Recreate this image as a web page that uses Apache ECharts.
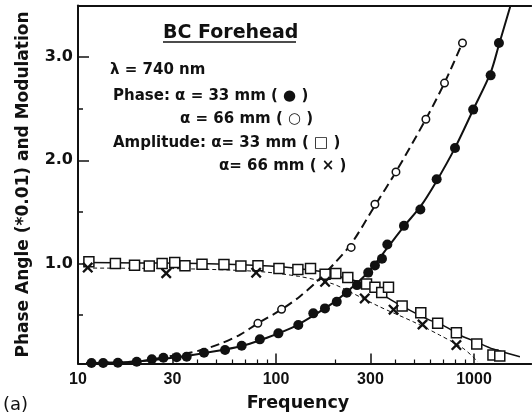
<!DOCTYPE html>
<html>
<head>
<meta charset="utf-8">
<script src="https://cdn.jsdelivr.net/npm/echarts@6/dist/echarts.min.js"></script>
<style>
html, body { margin: 0; padding: 0; background: #fff; }
#chart { width: 532px; height: 419px; }
</style>
</head>
<body>
<div id="chart"></div>
<script>
// axis ticks
var freqMajor = [10, 30, 100, 300, 1000];
var freqMinor = [20, 40, 50, 60, 70, 80, 90, 200, 400, 500, 600, 700, 800, 900];
var yMajor = [1, 2, 3];
var yMinor = [0.5, 1.5, 2.5];

// phase, 33 mm (filled circles) + fit
var phase33Freq = [11.7, 13.4, 15.9, 19.8, 23.6, 27.0, 31.5, 35.4, 43.3, 55.3, 67.1, 82.9, 102.8, 129.6, 154.3, 176.7, 202.7, 227.8, 256.5, 292.3, 316, 343, 365, 443, 536, 648, 802, 991, 1214, 1337];
var phase33Val = [0.035, 0.035, 0.038, 0.047, 0.071, 0.086, 0.090, 0.096, 0.135, 0.161, 0.202, 0.264, 0.322, 0.403, 0.516, 0.564, 0.628, 0.715, 0.790, 0.911, 0.981, 1.045, 1.184, 1.364, 1.523, 1.816, 2.119, 2.491, 2.823, 3.136];
var phase33FitFreq = [11, 15, 20, 30, 40, 55, 70, 90, 120, 150, 200, 250, 300, 365, 443, 536, 648, 802, 991, 1214, 1337, 1530];
var phase33FitVal = [0.035, 0.04, 0.05, 0.085, 0.12, 0.165, 0.21, 0.28, 0.375, 0.48, 0.635, 0.79, 0.94, 1.15, 1.36, 1.55, 1.8, 2.12, 2.49, 2.85, 3.12, 3.5];

// phase, 66 mm (open circles) + fit
var phase66Freq = [81, 106.7, 239.7, 316, 403.6, 571.6, 709.8, 875];
var phase66Val = [0.419, 0.555, 1.155, 1.574, 1.887, 2.397, 2.748, 3.136];
var phase66FitFreq = [11, 15, 21, 29, 40, 52, 66, 81, 107, 132, 160, 195, 240, 316, 404, 572, 710, 875];
var phase66FitVal = [0.035, 0.04, 0.055, 0.1, 0.15, 0.22, 0.31, 0.42, 0.555, 0.68, 0.82, 0.99, 1.19, 1.56, 1.89, 2.4, 2.75, 3.14];

// amplitude, 33 mm (squares) + fit
var amp33Freq = [11.35, 15.45, 19.3, 22.9, 26.6, 30.8, 34.7, 42.3, 54.6, 66.5, 81.1, 103.5, 129, 149.4, 177, 200.6, 230.5, 286.6, 316, 342, 370, 433.6, 538.7, 655.6, 815, 1033, 1247, 1350];
var amp33Val = [1.016, 1.0, 0.983, 0.974, 1.0, 1.01, 0.977, 0.993, 0.99, 0.974, 0.977, 0.952, 0.942, 0.952, 0.896, 0.903, 0.864, 0.8, 0.768, 0.719, 0.768, 0.587, 0.522, 0.419, 0.328, 0.219, 0.112, 0.103];
var amp33FitFreq = [11, 20, 41, 93, 132, 188, 211, 275, 408, 597, 670, 882, 1000, 1250, 1707];
var amp33FitVal = [1.01, 1.005, 1.0, 0.974, 0.948, 0.906, 0.87, 0.806, 0.613, 0.451, 0.419, 0.289, 0.25, 0.17, 0.096];

// amplitude, 66 mm (crosses) + fit
var amp66Freq = [11.2, 27.9, 79.4, 177, 280.7, 392.6, 549.7, 815];
var amp66Val = [0.96, 0.905, 0.91, 0.822, 0.661, 0.552, 0.408, 0.209];
var amp66FitFreq = [11, 30, 60, 90, 130, 160, 195, 236, 334, 493, 670, 882, 1047];
var amp66FitVal = [0.955, 0.95, 0.935, 0.915, 0.875, 0.84, 0.8, 0.725, 0.58, 0.435, 0.306, 0.177, 0.047];

function pairs(xs, ys) {
    return xs.map(function (x, i) { return [x, ys[i]]; });
}

var lib = 'Liberation Sans';
var dv = 'DejaVu Sans';
var ink = '#111';
var noteFont = 'bold 15px "DejaVu Sans"';
var crossPath = 'path://M0,1.5L1.5,0L5,3.5L8.5,0L10,1.5L6.5,5L10,8.5L8.5,10L5,6.5L1.5,10L0,8.5L3.5,5Z';

var myChart = echarts.init(document.getElementById('chart'));
var option = {
    animation: false,
    backgroundColor: '#fff',
    grid: { left: 78, top: 5.5, width: 453.4, height: 358 },
    xAxis: [{
            type: 'log',
            min: 10,
            max: 1950,
            position: 'bottom',
            axisLine: { lineStyle: { color: ink, width: 2 } },
            axisTick: { inside: true, length: 10, customValues: freqMajor, lineStyle: { color: ink, width: 1.5 } },
            axisLabel: {
                customValues: freqMajor,
                margin: 8,
                fontFamily: lib,
                fontWeight: 'bold',
                fontSize: 16,
                color: ink,
                formatter: function (v) { return String(v); }
            },
            splitLine: { show: false }
        },
        {
            type: 'log',
            min: 10,
            max: 1950,
            position: 'bottom',
            axisLine: { show: false },
            axisTick: { inside: true, length: 4, customValues: freqMinor, lineStyle: { color: ink, width: 1.2 } },
            axisLabel: { show: false },
            splitLine: { show: false }
        },
        {
            type: 'value',
            min: 0,
            max: 1,
            position: 'top',
            axisLine: { lineStyle: { color: ink, width: 2 } },
            axisTick: { show: false },
            axisLabel: { show: false },
            splitLine: { show: false }
        }
    ],
    yAxis: [{
            type: 'value',
            min: 0.03,
            max: 3.5,
            position: 'left',
            name: 'Phase Angle (*0.01) and Modulation',
            nameLocation: 'middle',
            nameGap: 46,
            nameTextStyle: { fontFamily: dv, fontWeight: 'bold', fontSize: 17, color: ink },
            axisLine: { lineStyle: { color: ink, width: 2 } },
            axisTick: { inside: true, length: 11, customValues: yMajor, lineStyle: { color: ink, width: 1.5 } },
            axisLabel: {
                customValues: yMajor,
                margin: 5,
                fontFamily: dv,
                fontWeight: 'bold',
                fontSize: 16,
                color: ink,
                formatter: function (v) { return v.toFixed(1); }
            },
            splitLine: { show: false }
        },
        {
            type: 'value',
            min: 0.03,
            max: 3.5,
            position: 'left',
            axisLine: { show: false },
            axisTick: { inside: true, length: 5, customValues: yMinor, lineStyle: { color: ink, width: 1.5 } },
            axisLabel: { show: false },
            splitLine: { show: false }
        }
    ],
    series: [{
            name: 'phase33 fit',
            type: 'line',
            smooth: 0.3,
            showSymbol: false,
            data: pairs(phase33FitFreq, phase33FitVal),
            lineStyle: { color: ink, width: 2 },
            z: 2
        },
        {
            name: 'phase66 fit',
            type: 'line',
            smooth: 0.3,
            showSymbol: false,
            data: pairs(phase66FitFreq, phase66FitVal),
            lineStyle: { color: ink, width: 2, type: [9, 5] },
            z: 2
        },
        {
            name: 'amp33 fit',
            type: 'line',
            smooth: 0.3,
            showSymbol: false,
            data: pairs(amp33FitFreq, amp33FitVal),
            lineStyle: { color: ink, width: 1.5 },
            z: 2
        },
        {
            name: 'amp66 fit',
            type: 'line',
            smooth: 0.3,
            showSymbol: false,
            data: pairs(amp66FitFreq, amp66FitVal),
            lineStyle: { color: ink, width: 1, type: [4, 3] },
            z: 2
        },
        {
            name: 'phase33',
            type: 'scatter',
            symbol: 'circle',
            symbolSize: 10,
            data: pairs(phase33Freq, phase33Val),
            itemStyle: { color: ink, opacity: 1 },
            z: 3
        },
        {
            name: 'phase66',
            type: 'scatter',
            symbol: 'circle',
            symbolSize: 7.5,
            data: pairs(phase66Freq, phase66Val),
            itemStyle: { color: '#fff', borderColor: ink, borderWidth: 1.5, opacity: 1 },
            z: 3
        },
        {
            name: 'amp33',
            type: 'scatter',
            symbol: 'rect',
            symbolSize: 10,
            data: pairs(amp33Freq, amp33Val),
            itemStyle: { color: '#fff', borderColor: ink, borderWidth: 1.5, opacity: 1 },
            z: 3
        },
        {
            name: 'amp66',
            type: 'scatter',
            symbol: crossPath,
            symbolSize: 11,
            data: pairs(amp66Freq, amp66Val),
            itemStyle: { color: ink, opacity: 1 },
            z: 4
        }
    ],
    graphic: [
        { type: 'text', x: 163, y: 33, style: { text: 'BC Forehead', font: 'bold 19px "DejaVu Sans"', fill: ink, textVerticalAlign: 'middle' } },
        { type: 'line', shape: { x1: 163, y1: 42, x2: 296, y2: 42 }, style: { stroke: ink, lineWidth: 1.5 } },
        { type: 'text', x: 110, y: 70.5, style: { text: 'λ = 740 nm', font: noteFont, fill: ink, textVerticalAlign: 'middle' } },
        { type: 'text', x: 113, y: 96, style: { text: 'Phase: α = 33 mm ( ● )', font: noteFont, fill: ink, textVerticalAlign: 'middle' } },
        { type: 'text', x: 180, y: 119, style: { text: 'α = 66 mm ( ○ )', font: noteFont, fill: ink, textVerticalAlign: 'middle' } },
        { type: 'text', x: 113, y: 143, style: { text: 'Amplitude: α= 33 mm ( □ )', font: noteFont, fill: ink, textVerticalAlign: 'middle' } },
        { type: 'text', x: 219, y: 166, style: { text: 'α= 66 mm ( × )', font: noteFont, fill: ink, textVerticalAlign: 'middle' } },
        { type: 'text', x: 298, y: 403, style: { text: 'Frequency', font: 'bold 17.5px "DejaVu Sans"', fill: ink, textAlign: 'center', textVerticalAlign: 'middle' } },
        { type: 'text', x: 3, y: 405, style: { text: '(a)', font: '18px "DejaVu Sans"', fill: ink, textVerticalAlign: 'middle' } }
    ]
};
myChart.setOption(option);
</script>
</body>
</html>
